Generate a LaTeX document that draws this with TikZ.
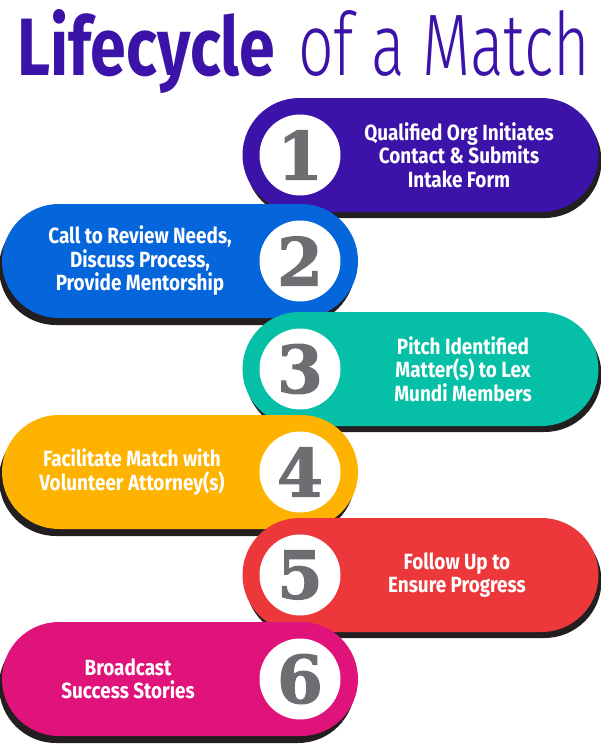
\documentclass[tikz,border=0pt]{standalone}
\usepackage{fontspec}
\usepackage{graphicx}
\setmainfont{Fira Sans}
\newfontfamily\lightfont{Fira Sans Light}
\newfontfamily\stepfont[FakeStretch=0.86]{Fira Sans}
\newfontfamily\numfont[FakeBold=1.6]{DejaVu Serif}
\usetikzlibrary{positioning}
\definecolor{lmpurple}{HTML}{3C13A8}
\definecolor{lmblue}{HTML}{0565DA}
\definecolor{lmteal}{HTML}{05BFA6}
\definecolor{lmamber}{HTML}{FDB300}
\definecolor{lmred}{HTML}{EC383A}
\definecolor{lmpink}{HTML}{E0137A}
\definecolor{lmshadow}{HTML}{231F20}
\definecolor{lmgray}{HTML}{6D6E71}

\begin{document}
\begin{tikzpicture}[x=1pt, y=-1pt,
      pill/.style={rounded corners=57pt, minimum width=356pt,
                   minimum height=114pt, inner sep=0pt},
      pillshadow/.style={pill, fill=lmshadow},
      numdisc/.style={circle, fill=white, minimum size=81pt, inner sep=0pt,
                      text=lmgray, font=\numfont\bfseries\fontsize{66}{66}\selectfont},
      steptext/.style={text=white, align=center,
                       font=\stepfont\bfseries\fontsize{22}{23.5}\selectfont}
    ]
      \useasboundingbox[fill=white] (0,0) rectangle (600,747);

      % title
      \node[anchor=base west, inner sep=0pt, text=lmpurple] (lifecycle) at (17,75)
        {\resizebox{258pt}{66pt}{\bfseries Lifecycle}};
      \node[anchor=base west, inner sep=0pt, text=lmpurple] (ofmatch) at (298,75)
        {\resizebox{292pt}{65pt}{\lightfont of a Match}};

      % step 1
      \node[pillshadow] (shd1) at (423.5,161) {};
      \node[pill, fill=lmpurple] (pill1) at (420.5,155) {};
      \node[numdisc] (num1) at (300,155) {1};
      \node[steptext] (txt1) at (459,155)
        {Qualified Org Initiates\\Contact \& Submits\\Intake Form};

      % step 2
      \node[pillshadow] (shd2) at (177,268) {};
      \node[pill, fill=lmblue] (pill2) at (180,261) {};
      \node[numdisc] (num2) at (300,261) {2};
      \node[steptext] (txt2) at (140,261)
        {Call to Review Needs,\\Discuss Process,\\Provide Mentorship};

      % step 3
      \node[pillshadow] (shd3) at (423.5,375) {};
      \node[pill, fill=lmteal] (pill3) at (420.5,369) {};
      \node[numdisc] (num3) at (300,369) {3};
      \node[steptext] (txt3) at (463,369)
        {Pitch Identified\\Matter(s) to Lex\\Mundi Members};

      % step 4
      \node[pillshadow] (shd4) at (177,479) {};
      \node[pill, fill=lmamber] (pill4) at (180,472) {};
      \node[numdisc] (num4) at (300,472) {4};
      \node[steptext] (txt4) at (132,472)
        {Facilitate Match with\\Volunteer Attorney(s)};

      % step 5
      \node[pillshadow] (shd5) at (423.5,581) {};
      \node[pill, fill=lmred] (pill5) at (420.5,575) {};
      \node[numdisc] (num5) at (300,575) {5};
      \node[steptext] (txt5) at (457,575)
        {Follow Up to\\Ensure Progress};

      % step 6
      \node[pillshadow] (shd6) at (177,686) {};
      \node[pill, fill=lmpink] (pill6) at (180,679) {};
      \node[numdisc] (num6) at (300,679) {6};
      \node[steptext] (txt6) at (128,679)
        {Broadcast\\Success Stories};
    \end{tikzpicture}
\end{document}
